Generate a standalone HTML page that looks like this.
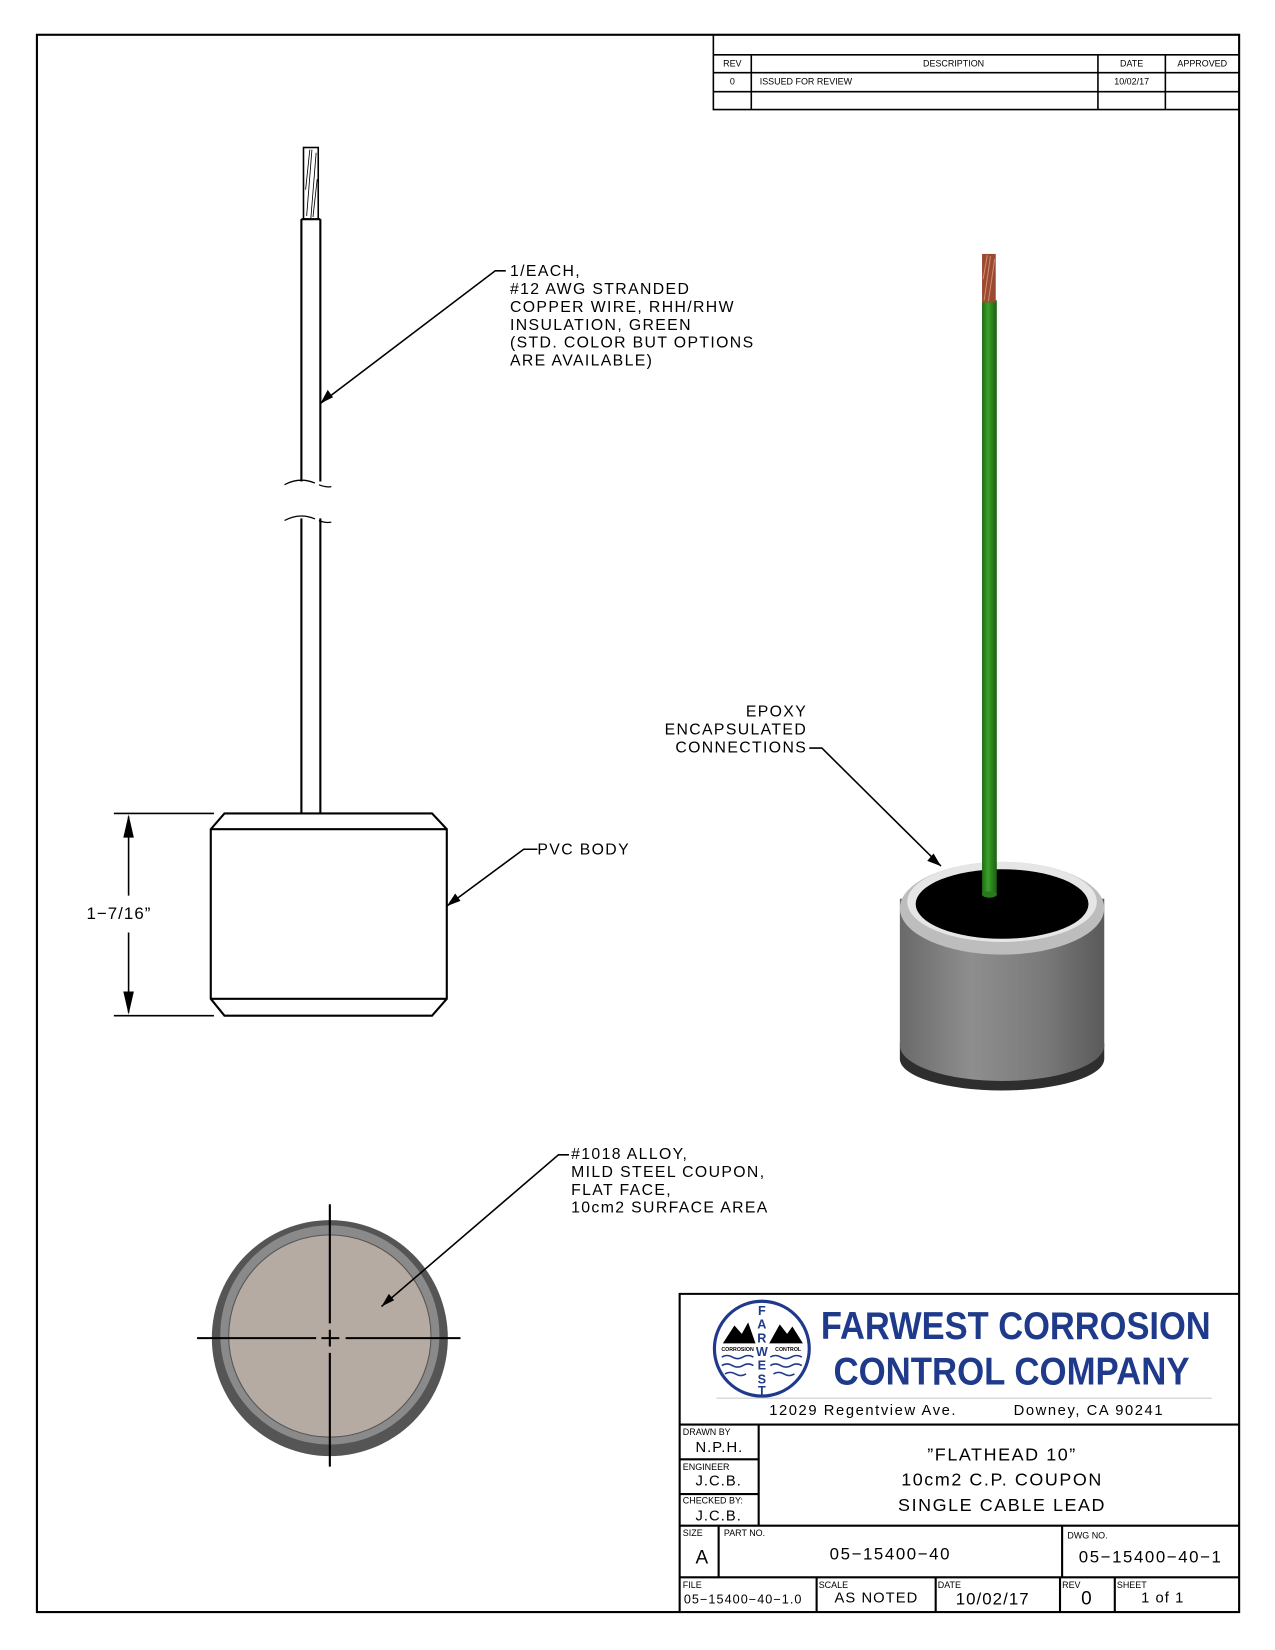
<!DOCTYPE html>
<html><head><meta charset="utf-8"><style>
html,body{margin:0;padding:0;background:#fff}
svg{display:block}
text{font-family:"Liberation Sans",sans-serif;fill:#000}
</style></head><body>
<svg width="1275" height="1650" viewBox="0 0 1210 1566" xmlns="http://www.w3.org/2000/svg">
<defs>
<linearGradient id="cyl" x1="0" x2="1" y1="0" y2="0">
<stop offset="0" stop-color="#6a6a6a"/><stop offset="0.35" stop-color="#8e8e8e"/><stop offset="0.7" stop-color="#7a7a7a"/><stop offset="1" stop-color="#5a5a5a"/></linearGradient>
<linearGradient id="grn" x1="0" x2="1"><stop offset="0" stop-color="#1f6a12"/><stop offset="0.4" stop-color="#3aa02a"/><stop offset="1" stop-color="#1b5e10"/></linearGradient>
</defs>
<rect x="35" y="33" width="1141" height="1497" fill="none" stroke="#000" stroke-width="2"/>
<g stroke="#000" stroke-width="1.5" fill="none">
<path d="M677 33V104H1176M677 52H1176M677 69H1176M677 87H1176M713 52V104M1042 52V104M1106 52V104"/>
</g>
<g font-size="8.5">
<text x="695" y="63" text-anchor="middle">REV</text>
<text x="905" y="63" text-anchor="middle">DESCRIPTION</text>
<text x="1074" y="63" text-anchor="middle">DATE</text>
<text x="1141" y="63" text-anchor="middle">APPROVED</text>
<text x="695" y="80" text-anchor="middle">0</text>
<text x="721" y="80">ISSUED FOR REVIEW</text>
<text x="1074" y="80" text-anchor="middle">10/02/17</text>
</g>
<!-- 3D -->
<path d="M854 990V1005A97 30 0 0 0 1048 1005V990Z" fill="#2e2e2e"/>
<path d="M854 853V992A97 34 0 0 0 1048 992V853Z" fill="url(#cyl)"/>
<ellipse cx="951" cy="862" rx="97" ry="44" fill="#bdbdbd"/>
<ellipse cx="951" cy="856" rx="90" ry="38" fill="#e6e6e6"/>
<ellipse cx="951" cy="858" rx="82" ry="33" fill="#000"/>
<rect x="932" y="285" width="14" height="564" fill="url(#grn)"/>
<ellipse cx="939" cy="849" rx="7" ry="3" fill="#2a7a1c"/>
<rect x="932" y="241" width="13" height="46" fill="#9a4a30"/>
<path d="M934 285L940 243M938 286L944 246M933 265L937 242" stroke="#d08a70" stroke-width="1"/>
<!-- bottom circle -->
<circle cx="313" cy="1270" r="112" fill="#555"/>
<circle cx="313" cy="1267" r="104" fill="#8a8a8a"/>
<circle cx="313" cy="1268" r="96" fill="#b6aba3" stroke="#555" stroke-width="1"/>
<g stroke="#000" stroke-width="2">
<path d="M187 1270H300M305 1270H322M328 1270H437M313 1143V1256M313 1262V1278M313 1284V1392"/>
</g>
<!-- left wire -->
<g stroke="#000" stroke-width="2" fill="none">
<rect x="288" y="140" width="14" height="68" stroke-width="1.5"/>
<path d="M291 205L296 142M295 207L300 145M290 180L294 142M297 206L301 170" stroke-width="0.8"/>
<path d="M286 208H304M286 208V457M304 208V457M286 492V772M304 492V772"/>
<path d="M270 460Q285 452 300 459T322 457M270 494Q285 486 300 493T322 490" stroke-width="1.2" stroke-dasharray="30 4 12"/>
<path d="M213 772H410L424 787V948L410 964H213L200 948V787Z"/>
<path d="M200 787H424M200 948H424"/>
<path d="M108 772H203M108 964H203M122 775V850M122 885V961" stroke-width="1.5"/>
<path d="M304 383L470 257H480M424 860L497 806H510M362 1240L530 1096H540M893 822L780 710H768" stroke-width="1.5"/>
</g>
<g fill="#000">
<path d="M122 773L117 795H127Z"/><path d="M122 963L117 941H127Z"/>
<path d="M304 383L311 370L316 377Z"/>
<path d="M424 860L432 848L437 855Z"/>
<path d="M362 1240L369 1228L374 1234Z"/>
<path d="M893 822L880 817L886 810Z"/>
</g>
<text x="82" y="872" font-size="16" letter-spacing="1">1−7/16”</text>
<g font-size="15" letter-spacing="1.3">
<text x="484" y="262">1/EACH,</text>
<text x="484" y="279">#12 AWG STRANDED</text>
<text x="484" y="296">COPPER WIRE, RHH/RHW</text>
<text x="484" y="313">INSULATION, GREEN</text>
<text x="484" y="330">(STD. COLOR BUT OPTIONS</text>
<text x="484" y="347">ARE AVAILABLE)</text>
<text x="510" y="811">PVC BODY</text>
<text x="542" y="1100">#1018 ALLOY,</text>
<text x="542" y="1117">MILD STEEL COUPON,</text>
<text x="542" y="1134">FLAT FACE,</text>
<text x="542" y="1151">10cm2 SURFACE AREA</text>
<text x="766" y="680" text-anchor="end">EPOXY</text>
<text x="766" y="697" text-anchor="end">ENCAPSULATED</text>
<text x="766" y="714" text-anchor="end">CONNECTIONS</text>
</g>
<!-- title block -->
<g stroke="#000" stroke-width="2" fill="none">
<path d="M645 1530V1228H1176M645 1352H1176M645 1448H1176M645 1497H1176M720 1352V1448M645 1385H720M645 1418H720M682 1448V1497M1008 1448V1497M775 1497V1530M888 1497V1530M1006 1497V1530M1058 1497V1530"/>
</g>
<path d="M680 1327H1150" stroke="#ccc" stroke-width="1"/>
<circle cx="723" cy="1280" r="45" fill="#fff" stroke="#1f3a8a" stroke-width="3"/>
<path d="M686 1275L697 1258L704 1266L710 1255L717 1275Z" fill="#000"/>
<path d="M730 1275L740 1257L747 1266L752 1259L762 1275Z" fill="#000"/>
<g stroke="#1f3a8a" stroke-width="1.5" fill="none">
<path d="M685 1288q5-3 10 0t10 0t10 0M685 1296q5-3 10 0t10 0t10 0M688 1304q5-3 10 0t10 0M731 1288q5-3 10 0t10 0t10 0M731 1296q5-3 10 0t10 0t10 0M734 1304q5-3 10 0t10 0"/>
</g>
<g font-size="12" font-weight="bold" text-anchor="middle">
<text x="723" y="1248" style="fill:#1f3a8a">F</text><text x="723" y="1261" style="fill:#1f3a8a">A</text><text x="723" y="1274" style="fill:#1f3a8a">R</text><text x="723" y="1287" style="fill:#1f3a8a">W</text><text x="723" y="1300" style="fill:#1f3a8a">E</text><text x="723" y="1313" style="fill:#1f3a8a">S</text><text x="723" y="1324" style="fill:#1f3a8a">T</text>
</g>
<text x="700" y="1282" font-size="5" text-anchor="middle" font-weight="bold">CORROSION</text>
<text x="748" y="1282" font-size="5" text-anchor="middle" font-weight="bold">CONTROL</text>
<g font-weight="bold" font-size="37" text-anchor="middle">
<text x="964" y="1271" style="fill:#1f3a8a" textLength="370" lengthAdjust="spacingAndGlyphs">FARWEST CORROSION</text>
<text x="960" y="1314" style="fill:#1f3a8a" textLength="338" lengthAdjust="spacingAndGlyphs">CONTROL COMPANY</text>
</g>
<text x="730" y="1343" font-size="14" letter-spacing="1.5">12029 Regentview Ave.</text>
<text x="962" y="1343" font-size="14" letter-spacing="1.5">Downey, CA 90241</text>
<g font-size="8.5">
<text x="648" y="1362">DRAWN BY</text><text x="648" y="1395">ENGINEER</text><text x="648" y="1427">CHECKED BY:</text>
<text x="648" y="1458">SIZE</text><text x="687" y="1458">PART NO.</text><text x="1013" y="1460">DWG NO.</text>
<text x="648" y="1507">FILE</text><text x="777" y="1507">SCALE</text><text x="890" y="1507">DATE</text><text x="1008" y="1507">REV</text><text x="1060" y="1507">SHEET</text>
</g>
<g font-size="14" letter-spacing="1">
<text x="660" y="1378">N.P.H.</text><text x="660" y="1410">J.C.B.</text><text x="660" y="1443">J.C.B.</text>
<text x="649" y="1522" font-size="12">05−15400−40−1.0</text>
<text x="792" y="1521">AS NOTED</text>
<text x="907" y="1523" font-size="16">10/02/17</text>
<text x="1026" y="1523" font-size="18">0</text>
<text x="1083" y="1521">1 of 1</text>
</g>
<g font-size="17" letter-spacing="1.5" text-anchor="middle">
<text x="951" y="1386">”FLATHEAD 10”</text>
<text x="951" y="1410">10cm2 C.P. COUPON</text>
<text x="951" y="1434">SINGLE CABLE LEAD</text>
<text x="845" y="1480" font-size="16">05−15400−40</text>
<text x="1092" y="1483" font-size="16">05−15400−40−1</text>
</g>
<text x="660" y="1484" font-size="18">A</text>
</svg>
</body></html>
